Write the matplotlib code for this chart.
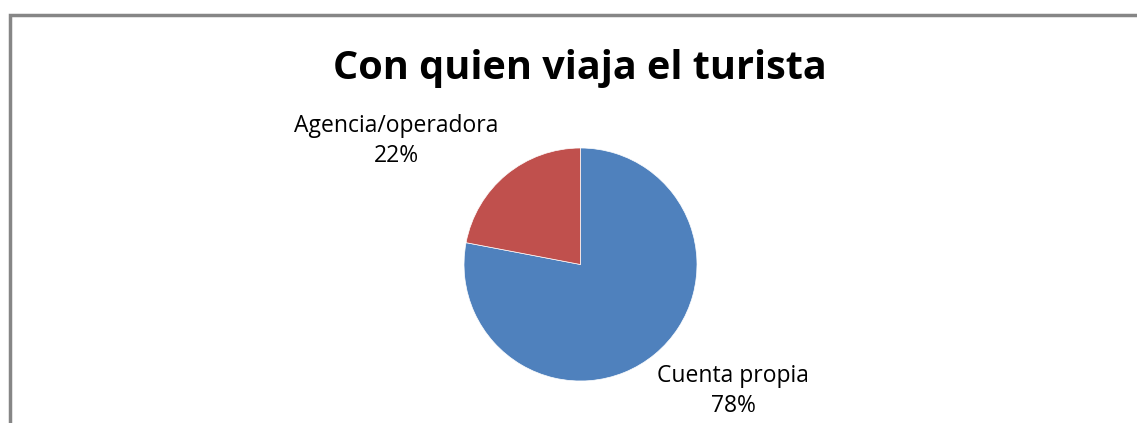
import matplotlib.pyplot as plt
from matplotlib.patches import Rectangle

categories = ["Cuenta propia", "Agencia/operadora"]
shares = [78, 22]
colors = ["#4f81bd", "#c0504d"]

W, H = 1137, 423
fig = plt.figure(figsize=(W / 100, H / 100), dpi=100)
plt.rcParams['font.family'] = ['Open Sans', 'DejaVu Sans']

# chart frame (runs off the bottom/right of the picture)
fig.patches.append(Rectangle((10 / W, -0.1), 1.2, (423 - 15) / H + 0.1,
                             transform=fig.transFigure, fill=False,
                             edgecolor="#868686", linewidth=2.5))

fig.text(580 / W, 1 - 68 / H, "Con quien viaja el turista", ha="center",
         va="center", fontsize=28.5, fontweight="bold")

ax = fig.add_axes([464 / W, 1 - 381 / H, 233 / W, 233 / H])
ax.pie(shares, colors=colors, startangle=90, counterclock=False,
       wedgeprops=dict(edgecolor="white", linewidth=0.5))
ax.set_xlim(-1, 1)
ax.set_ylim(-1, 1)
ax.set_aspect("equal")

fig.text(396 / W, 1 - 141 / H, f"{categories[1]}\n{shares[1]}%", ha="center",
         va="center", fontsize=16.5, linespacing=1.3)
fig.text(733 / W, 1 - 391 / H, f"{categories[0]}\n{shares[0]}%", ha="center",
         va="center", fontsize=16.5, linespacing=1.3)

fig.savefig("out.png", dpi=100)
